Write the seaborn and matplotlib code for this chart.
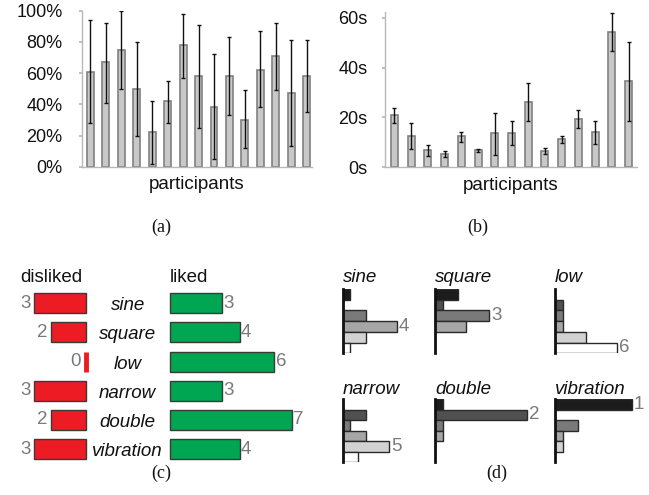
import numpy as np
import pandas as pd
import matplotlib
matplotlib.use("Agg")
import matplotlib.pyplot as plt
import matplotlib.transforms as mtransforms
import seaborn as sns

sns.set_theme(style="white")
plt.rcParams['font.family'] = ['Liberation Sans', 'DejaVu Sans']

# ---------------- data ----------------
participants = [f"P{i+1}" for i in range(15)]
# (a) percentage per participant with lower/upper error limits
pct_mean = [61, 67, 75, 50, 22, 42, 78, 58, 38, 58, 30, 62, 71, 47, 58]
pct_low = [28, 41, 50, 20, 2, 28, 57, 25, 5, 33, 12, 38, 49, 13, 35]
pct_high = [94, 92, 100, 80, 42, 55, 98, 91, 72, 83, 49, 87, 92, 81, 81]
# (b) time per participant in seconds
time_mean = [20.9, 12.7, 7.0, 5.3, 12.6, 7.0, 13.6, 13.9, 26.3, 6.7, 11.2, 19.3, 14.0, 54.4, 34.8]
time_low = [17.9, 7.4, 4.7, 4.0, 10.3, 6.0, 5.1, 8.8, 18.7, 5.3, 9.6, 15.8, 9.2, 46.5, 18.7]
time_high = [23.7, 17.6, 9.0, 6.7, 14.0, 7.5, 21.7, 18.4, 34.0, 7.8, 12.7, 22.9, 18.7, 61.8, 50.4]
# (c) liked / disliked counts
signals = ["sine", "square", "low", "narrow", "double", "vibration"]
disliked = [3, 2, 0, 3, 2, 3]
liked = [3, 4, 6, 3, 7, 4]
# (d) rank distribution (rank 1..6) per signal
ranks = ["1", "2", "3", "4", "5", "6"]
rank_counts = {
    "sine":      [1, 0, 3, 7, 3, 1],
    "square":    [3, 1, 7, 4, 0, 0],
    "low":       [0, 1, 1, 1, 4, 8],
    "narrow":    [0, 3, 1, 3, 6, 2],
    "double":    [1, 12, 1, 1, 0, 0],
    "vibration": [10, 0, 3, 1, 1, 0],
}
rank_colors = ["#1c1c1c", "#505050", "#7a7a7a", "#a6a6a6", "#d2d2d2", "#ffffff"]

W, H = 649, 495
fig = plt.figure(figsize=(W / 100, H / 100), dpi=100)


def px_axes(left, top, right, bottom):
    return fig.add_axes([left / W, 1 - bottom / H, (right - left) / W, (bottom - top) / H])


def ftext(x, y, s, **kw):
    fig.text(x / W, 1 - y / H, s, **kw)


bar_fill = "#c8c8c8"
bar_edge = "#808080"
spine_col = "#b8b8b8"


def style_participant_axes(ax, pad):
    for s in ["top", "right"]:
        ax.spines[s].set_visible(False)
    for s in ["left", "bottom"]:
        ax.spines[s].set_color(spine_col)
        ax.spines[s].set_linewidth(1.0)
    ax.tick_params(axis="y", left=True, length=2, color=spine_col, labelsize=13, pad=pad, labelcolor="#111111")
    ax.tick_params(axis="x", bottom=False, labelbottom=False)
    ax.set_xlabel("participants", fontsize=13.5, color="#111111", labelpad=7)
    ax.set_ylabel("")


# ---------------- (a) ----------------
ax_a = px_axes(82, 10.7, 312, 166.7)
df_a = pd.DataFrame({"p": participants, "v": pct_mean})
sns.barplot(data=df_a, x="p", y="v", color=bar_fill, edgecolor=bar_edge, linewidth=1.2,
            width=0.45, saturation=1, ax=ax_a)
xa = np.arange(len(participants))
ax_a.errorbar(xa, pct_mean,
              yerr=[np.array(pct_mean) - np.array(pct_low), np.array(pct_high) - np.array(pct_mean)],
              fmt="none", ecolor="#111111", elinewidth=1.0, capsize=1.5, capthick=1.0)
ax_a.set_xlim(-0.55, 14.35)
ax_a.set_ylim(0, 100)
ax_a.set_yticks([0, 20, 40, 60, 80, 100])
ax_a.set_yticklabels([f"{t}%" for t in [0, 20, 40, 60, 80, 100]])
style_participant_axes(ax_a, pad=12)

# ---------------- (b) ----------------
ax_b = px_axes(385, 11.7, 637, 167.3)
df_b = pd.DataFrame({"p": participants, "v": time_mean})
sns.barplot(data=df_b, x="p", y="v", color=bar_fill, edgecolor=bar_edge, linewidth=1.2,
            width=0.42, saturation=1, ax=ax_b)
ax_b.errorbar(xa, time_mean,
              yerr=[np.array(time_mean) - np.array(time_low), np.array(time_high) - np.array(time_mean)],
              fmt="none", ecolor="#111111", elinewidth=1.0, capsize=1.5, capthick=1.0)
ax_b.set_xlim(-0.56, 14.5)
ax_b.set_ylim(0, 62.4)
ax_b.set_yticks([0, 20, 40, 60])
ax_b.set_yticklabels([f"{t}s" for t in [0, 20, 40, 60]])
style_participant_axes(ax_b, pad=10.5)

# ---------------- (c) ----------------
row_top, row_bot = 288.7, 463.6
unit_c = 17.4
ax_dis = px_axes(10, row_top, 86, row_bot)
ax_lik = px_axes(170, row_top, 315, row_bot)
df_c = pd.DataFrame({"signal": signals, "disliked": disliked, "liked": liked})
sns.barplot(data=df_c, y="signal", x="disliked", orient="h", color="#ed1c24", edgecolor="#3a3a3a",
            linewidth=1.0, width=0.69, saturation=1, ax=ax_dis)
sns.barplot(data=df_c, y="signal", x="liked", orient="h", color="#00a651", edgecolor="#3a3a3a",
            linewidth=1.0, width=0.69, saturation=1, ax=ax_lik)
ax_dis.set_xlim((86 - 10) / unit_c, 0)
ax_lik.set_xlim(0, (315 - 170) / unit_c)
for ax in (ax_dis, ax_lik):
    ax.set_ylim(5.5, -0.5)
    ax.axis("off")
    for p in ax.patches:
        p.set_clip_on(False)
# an empty (zero) bar is still shown as a thin red sliver, as in the original
for p in ax_dis.patches:
    if p.get_width() == 0:
        p.set_edgecolor("#ed1c24")
        p.set_linewidth(3.5)
num_gray = "#7a7a7a"
for i, v in enumerate(disliked):
    ax_dis.annotate(str(v), xy=(v, i), xytext=(-2.5 if v else -4, 0), textcoords="offset points",
                    ha="right", va="center", fontsize=13.5, color=num_gray)
for i, v in enumerate(liked):
    ax_lik.annotate(str(v), xy=(v, i), xytext=(1, 0), textcoords="offset points",
                    ha="left", va="center", fontsize=13.5, color=num_gray)
blend = mtransforms.blended_transform_factory(fig.transFigure, ax_lik.transData)
for i, s in enumerate(signals):
    fig.text(127.7 / W, i + 0.24, s, transform=blend, ha="center", va="baseline",
             fontsize=13.5, style="italic", color="#111111")
ftext(20, 282, "disliked", ha="left", va="baseline", fontsize=13.5, color="#111111")
ftext(170, 282, "liked", ha="left", va="baseline", fontsize=13.5, color="#111111")

# ---------------- (d) ----------------
unit_d = 7.7
col_x = [342.7, 435, 555]
rows_y = [(289, 353.3, 281.7), (399, 462.3, 394)]
for k, sig in enumerate(signals):
    r, c = divmod(k, 3)
    top, bot, title_y = rows_y[r]
    left = col_x[c]
    ax = px_axes(left, top, left + 13 * unit_d, bot)
    counts = rank_counts[sig]
    df_d = pd.DataFrame({"rank": ranks, "n": counts})
    sns.barplot(data=df_d, y="rank", x="n", hue="rank", palette=rank_colors, orient="h",
                edgecolor="#2a2a2a", linewidth=1.0, width=1.0, saturation=1, legend=False, ax=ax)
    ax.set_xlim(0, 13)
    ax.set_ylim(5.5, -0.5)
    ax.set_xticks([])
    ax.set_yticks([])
    ax.set_xlabel("")
    ax.set_ylabel("")
    for s in ["top", "right", "bottom"]:
        ax.spines[s].set_visible(False)
    ax.spines["left"].set_color("#111111")
    ax.spines["left"].set_linewidth(2.0)
    ax.patch.set_alpha(0)
    imax = int(np.argmax(counts))
    ax.annotate(ranks[imax], xy=(counts[imax], imax), xytext=(1.5, 0), textcoords="offset points",
                ha="left", va="center", fontsize=13.5, color=num_gray)
    ftext(left, title_y, sig, ha="left", va="baseline", fontsize=13.5, style="italic", color="#111111")

# ---------------- captions ----------------
for x, y, s in [(161.7, 227, "(a)"), (478, 227, "(b)"), (161.7, 473, "(c)"), (496.7, 473, "(d)")]:
    ftext(x, y, s, ha="center", va="center", fontsize=13, family=["Liberation Serif", "DejaVu Serif"],
          color="#111111")

fig.savefig("out.png", dpi=100)
